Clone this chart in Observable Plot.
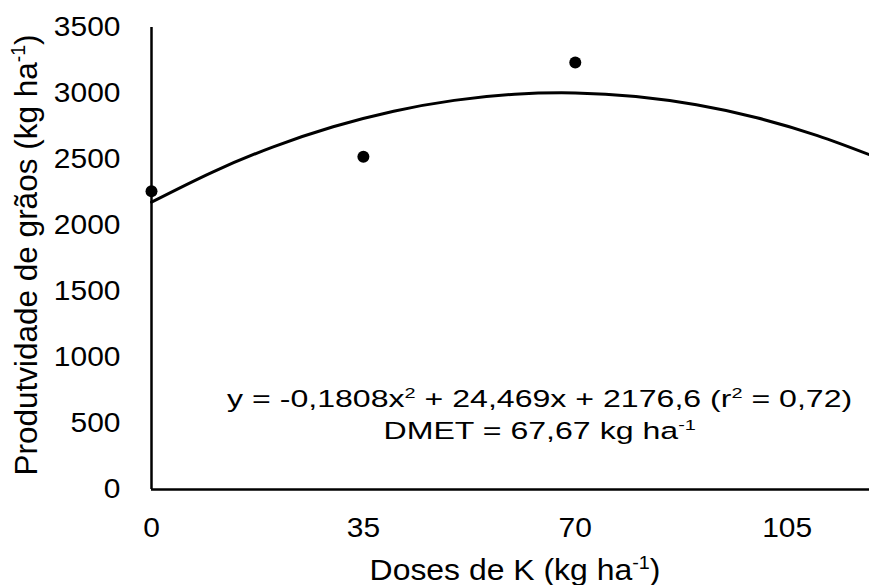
<!DOCTYPE html>
<html><head><meta charset="utf-8">
<script src="https://cdn.jsdelivr.net/npm/d3@7"></script>
<script src="https://cdn.jsdelivr.net/npm/@observablehq/plot@0.6"></script>
<style>
body{margin:0;background:#fff;}
svg{display:block;}
</style>
</head><body><div id="chart"></div>
<script>
// Observed means
const doses = [0, 35, 70];
const produtividade = [2260, 2520, 3235];
// Fitted curve
const curveDoses = [0, 10, 20, 30, 40, 50, 60, 70, 80, 90, 100, 110, 118.6];
const curveProd = [2177, 2403, 2594, 2748, 2866, 2948, 2994, 3004, 2977, 2914, 2816, 2681, 2536];
const xTicks = [0, 35, 70, 105];
const yTicks = [0, 500, 1000, 1500, 2000, 2500, 3000, 3500];
// Text with superscript segments [text, isSuperscript]
const xLabel = [["Doses de K (kg ha", false], ["-1", true], [")", false]];
const yLabel = [["Produtvidade de grãos (kg ha", false], ["-1", true], [")", false]];
const eqLine1 = [["y = -0,1808x", false], ["2", true], [" + 24,469x + 2176,6 (r", false], ["2", true], [" = 0,72)", false]];
const eqLine2 = [["DMET = 67,67 kg ha", false], ["-1", true]];

const points = doses.map((d, i) => ({dose: d, prod: produtividade[i]}));
const curve = curveDoses.map((d, i) => ({dose: d, prod: curveProd[i]}));

const FONT = "Liberation Sans, Arial, sans-serif";

const chart = Plot.plot({
  width: 869,
  height: 585,
  marginLeft: 151,
  marginRight: 0,
  marginTop: 27,
  marginBottom: 96,
  style: {fontFamily: FONT, fontSize: "28px", color: "#000", background: "#fff", overflow: "visible"},
  x: {domain: [0, 118.6], ticks: xTicks, tickSize: 0, tickPadding: 28, label: null},
  y: {domain: [0, 3500], ticks: yTicks, tickSize: 0, tickPadding: 31, label: null, tickFormat: d => String(d)},
  marks: [
    Plot.ruleX([0], {y1: 0, y2: 3500, stroke: "#000", strokeWidth: 2.5}),
    Plot.ruleY([0], {stroke: "#000", strokeWidth: 2.5}),
    Plot.line(curve, {x: "dose", y: "prod", curve: "natural", stroke: "#000", strokeWidth: 3}),
    Plot.dot(points, {x: "dose", y: "prod", r: 6, fill: "#000", stroke: "none"})
  ]
});
document.getElementById("chart").appendChild(chart);

const svg = d3.select(chart);
const xs = chart.scale("x"), ys = chart.scale("y");

// slight horizontal widening of tick labels, as in the reference
svg.selectAll('[aria-label$="tick label"] text').each(function () {
  const tr = this.getAttribute("transform") || "";
  this.setAttribute("transform", tr + " scale(1.07,1)");
});

function addText(segments, x, y, opts = {}) {
  const fs = opts.fs;
  const t = svg.append("text")
    .attr("x", x).attr("y", y)
    .attr("text-anchor", "middle")
    .attr("font-family", FONT)
    .attr("font-size", fs)
    .attr("fill", "#000")
    .style("white-space", "pre");
  if (opts.rotate) t.attr("transform", `rotate(-90 ${x} ${y})`);
  else if (opts.sx) t.attr("transform", `translate(${x},${y}) scale(${opts.sx},1) translate(${-x},${-y})`);
  let shifted = false;
  segments.forEach(([s, sup]) => {
    const ts = t.append("tspan").text(s);
    if (sup) {
      ts.attr("font-size", fs * 0.62).attr("dy", -fs * 0.38);
      shifted = true;
    } else if (shifted) {
      ts.attr("dy", fs * 0.38);
      shifted = false;
    }
  });
  return t;
}

// Axis titles
addText(xLabel, 515, 580, {fs: 29.3, sx: 1.09});
addText(yLabel, 37, 255, {fs: 31.5, rotate: true});
// Equation annotation placed in data coordinates
addText(eqLine1, xs.apply(64.2), ys.apply(620), {fs: 24.5, sx: 1.31});
addText(eqLine2, xs.apply(64.2), ys.apply(378), {fs: 24.5, sx: 1.31});
</script>
</body></html>
